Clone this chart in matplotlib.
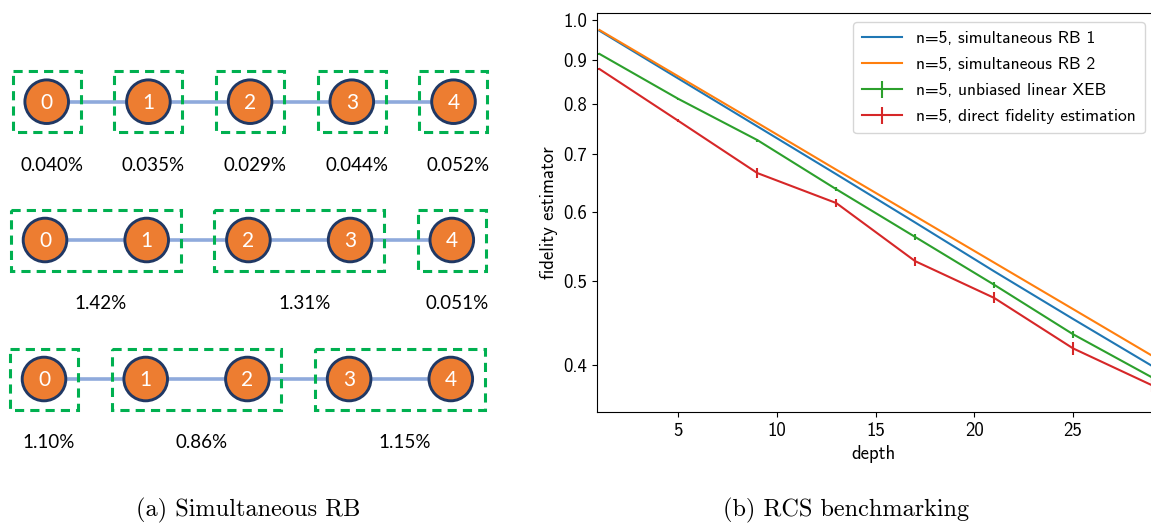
#!/usr/bin/env python3
"""Simultaneous RB layout and RCS benchmarking curves."""

import matplotlib
matplotlib.use('Agg')
import matplotlib.pyplot as plt
from matplotlib.patches import Circle, Rectangle
from matplotlib.ticker import NullLocator, NullFormatter

W, H = 1151, 523

# --- panel (a): qubit groups and error rates, one row per grouping ---
QUBITS = [0, 1, 2, 3, 4]
ROW_GROUPS = [
    [[0], [1], [2], [3], [4]],
    [[0, 1], [2, 3], [4]],
    [[0], [1, 2], [3, 4]],
]
ROW_ERRORS = [
    ["0.040%", "0.035%", "0.029%", "0.044%", "0.052%"],
    ["1.42%", "1.31%", "0.051%"],
    ["1.10%", "0.86%", "1.15%"],
]

# --- panel (b): fidelity estimator vs depth ---
DEPTH = [1, 5, 9, 13, 17, 21, 25, 29]
RB1 = [0.972, 0.856, 0.754, 0.664, 0.584, 0.513, 0.452, 0.399]
RB2 = [0.974, 0.861, 0.761, 0.672, 0.594, 0.525, 0.464, 0.410]
XEB = [0.914, 0.811, 0.727, 0.638, 0.562, 0.495, 0.434, 0.387]
XEB_ERR = [0.002, 0.002, 0.003, 0.003, 0.004, 0.004, 0.004, 0.004]
DFE = [0.878, 0.765, 0.666, 0.615, 0.527, 0.478, 0.418, 0.379]
DFE_ERR = [0.003, 0.003, 0.009, 0.006, 0.0065, 0.007, 0.0068, 0.007]
YTICKS = [0.4, 0.5, 0.6, 0.7, 0.8, 0.9, 1.0]
XTICKS = [5, 10, 15, 20, 25]

plt.rcParams['font.family'] = 'cmss10'
plt.rcParams['axes.unicode_minus'] = False

fig = plt.figure(figsize=(W / 100, H / 100), dpi=100)

# diagram drawn in pixel coordinates
ax0 = fig.add_axes([0, 0, 1, 1])
ax0.set_xlim(0, W)
ax0.set_ylim(H, 0)
ax0.axis('off')

row_y = [101.7, 240, 379]
row_x0 = [46.7, 45, 44]
step = 101.7
rad = 21.8
pad_x, pad_y = 34, 30.5

for r, groups in enumerate(ROW_GROUPS):
    y = row_y[r]
    xs = [row_x0[r] + step * q for q in QUBITS]
    ax0.plot([xs[0], xs[-1]], [y, y], color='#8FAADC', lw=2.6, zorder=1)
    for q in QUBITS:
        ax0.add_patch(Circle((xs[q], y), rad, facecolor='#ED7D31',
                             edgecolor='#203864', lw=2.1, zorder=3))
        ax0.text(xs[q], y + 1, str(q), color='white', fontsize=15,
                 family='Lato', ha='center', va='center', zorder=4)
    for g, grp in enumerate(groups):
        left = xs[grp[0]] - pad_x
        right = xs[grp[-1]] + pad_x
        ax0.add_patch(Rectangle((left, y - pad_y), right - left, 2 * pad_y,
                                fill=False, edgecolor='#00B050', lw=2.2,
                                linestyle=(0, (3, 2)), zorder=2))
        mid = (xs[grp[0]] + xs[grp[-1]]) / 2
        ax0.text(mid + 5, y + 63.5, ROW_ERRORS[r][g], fontsize=13.5,
                 family='Lato', ha='center', va='center', color='black')

fig.text(248 / W, 1 - 510 / H, '(a) Simultaneous RB', family='cmr10',
         fontsize=17.5, ha='center', va='center')
fig.text(846 / W, 1 - 510 / H, '(b) RCS benchmarking', family='cmr10',
         fontsize=17.5, ha='center', va='center')

# fidelity plot
ax = fig.add_axes([597 / W, (H - 412) / H, (W - 597) / W, 399 / H])
ax.plot(DEPTH, RB1, color='tab:blue', lw=1.5, label='n=5, simultaneous RB 1')
ax.plot(DEPTH, RB2, color='tab:orange', lw=1.5, label='n=5, simultaneous RB 2')
ax.errorbar(DEPTH, XEB, yerr=XEB_ERR, color='tab:green', lw=1.5,
            label='n=5, unbiased linear XEB')
ax.errorbar(DEPTH, DFE, yerr=DFE_ERR, color='tab:red', lw=1.5,
            label='n=5, direct fidelity estimation')

ax.set_yscale('log')
ax.set_ylim(0.353, 1.019)
ax.set_xlim(0.874, 28.95)
ax.set_yticks(YTICKS)
ax.set_yticklabels(['%.1f' % v for v in YTICKS])
ax.yaxis.set_minor_locator(NullLocator())
ax.yaxis.set_minor_formatter(NullFormatter())
ax.set_xticks(XTICKS)
ax.tick_params(labelsize=13.5)
ax.spines['right'].set_visible(False)
ax.set_xlabel('depth', fontsize=13.5, labelpad=4)
ax.set_ylabel('fidelity estimator', fontsize=13.5, labelpad=4)
ax.legend(loc='upper right', bbox_to_anchor=(0.989, 0.977), borderaxespad=0,
          fontsize=12.6, handlelength=2.3, handletextpad=0.8,
          labelspacing=0.62, borderpad=0.5)

fig.savefig('out.png', dpi=100)
